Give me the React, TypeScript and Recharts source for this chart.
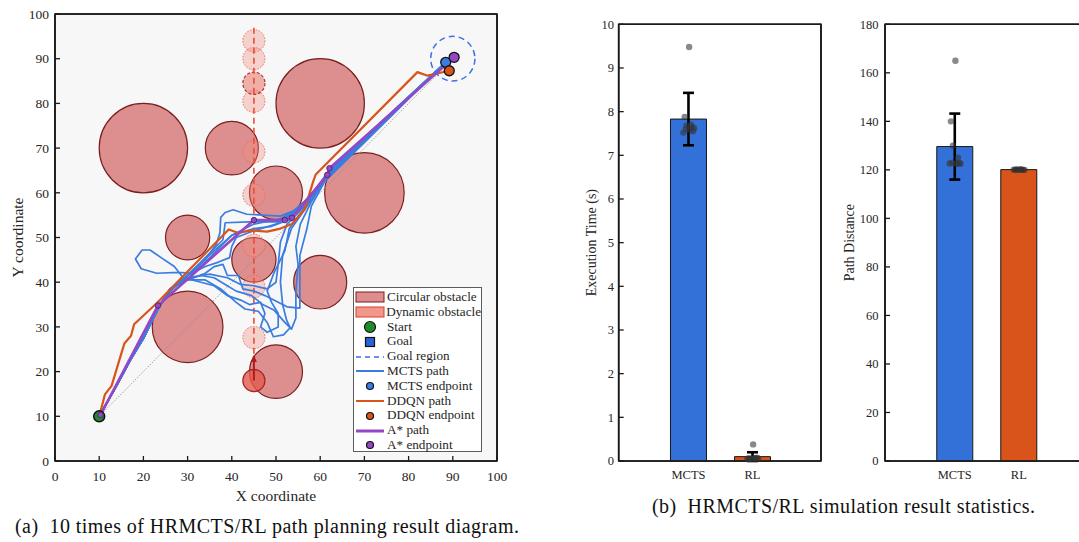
import React from "react";
import {
  Bar,
  Cell,
  ComposedChart,
  ErrorBar,
  ReferenceArea,
  Scatter,
  XAxis,
  YAxis,
} from "recharts";

const SERIF = '"Liberation Serif", "Times New Roman", serif';
const INK = "#262626";
const AXIS = "#1a1a1a";

// ---- path planning map -------------------------------------------------
const MAP_W = 510;
const MAP_H = 510;
const MAP_MARGIN = { top: 14, right: 13, bottom: 9, left: 0 };
const MAP_YAXIS_W = 55;
const MAP_XAXIS_H = 40;
const PLOT_W = MAP_W - MAP_MARGIN.left - MAP_MARGIN.right - MAP_YAXIS_W;
const PLOT_H = MAP_H - MAP_MARGIN.top - MAP_MARGIN.bottom - MAP_XAXIS_H;
const SX = PLOT_W / 100;
const SY = PLOT_H / 100;

const MAP_TICKS = [0, 10, 20, 30, 40, 50, 60, 70, 80, 90, 100];

const OBSTACLES = [
  { x: 20, y: 70, r: 10 },
  { x: 40, y: 70, r: 6 },
  { x: 60, y: 80, r: 10 },
  { x: 70, y: 60, r: 9 },
  { x: 50, y: 60, r: 6 },
  { x: 30, y: 50, r: 5 },
  { x: 45, y: 45, r: 5 },
  { x: 60, y: 40, r: 6 },
  { x: 30, y: 30, r: 8 },
  { x: 50, y: 20, r: 6 },
];

// moving obstacle: past positions, one highlighted sample, and current position
const DYN_TRAIL = [
  { x: 45, y: 94, r: 2.5 },
  { x: 45, y: 90, r: 2.5 },
  { x: 45, y: 80.5, r: 2.5 },
  { x: 45, y: 69.2, r: 2.5 },
  { x: 45, y: 59.5, r: 2.5 },
  { x: 45, y: 48.2, r: 2.5 },
  { x: 45, y: 39, r: 2.5 },
  { x: 45, y: 27.6, r: 2.5 },
];
const DYN_SAMPLE = [{ x: 45, y: 84.5, r: 2.5 }];
const DYN_NOW = [{ x: 45, y: 18, r: 2.5 }];
const DYN_TRACK = [
  { x: 45, y: 24 },
  { x: 45, y: 97 },
];
const DYN_ARROW = [
  { x: 45, y: 18 },
  { x: 45, y: 23.5 },
];

const START = [{ x: 10, y: 10 }];
const GOAL_REGION = [{ x: 90, y: 90, r: 5 }];
const DIAGONAL = [
  { x: 10, y: 10 },
  { x: 90, y: 90 },
];

const MCTS_END = [88.4, 89.2];
const TRUNK = [
  [10, 10],
  [14, 17],
  [17, 22.5],
  [20.2, 27.8],
  [22, 31.5],
  [23.6, 34.6],
];

const MCTS_RUNS = [
  [[26, 38], [30, 41.5], [34, 45], [36.5, 48.5], [37.3, 51], [37.5, 54.5], [38.5, 55.6], [40.3, 56.2], [43.4, 55.2], [47, 55], [51, 54.8], [54, 56], [57, 58.5], [60, 62], [62.5, 65.5], [75, 76.8]],
  [[26, 38], [30, 41.5], [35, 46.5], [38, 49.5], [38.5, 53.3], [44, 53.5], [50, 53.5], [53.5, 55], [58, 59], [62, 65]],
  [[26, 38], [29, 41], [27, 43.5], [24, 45.5], [21.5, 47.2], [19.7, 47.2], [18.2, 45.2], [19.5, 43], [23, 42], [28, 42.2], [31, 42], [34, 44.5], [37, 47.5], [40, 50.5], [45, 52], [49, 52.5], [53, 54], [57, 57.5], [61, 63]],
  [[26, 38.5], [29.5, 40.5], [33, 41.5], [36, 41], [38.5, 39.5], [41, 38], [44.5, 37], [47, 35], [49.5, 33.8], [52, 31], [53.5, 29.5], [54.5, 32], [54.5, 38], [55, 44], [54.5, 48], [55.5, 53], [58, 58], [62, 64.5]],
  [[26, 38.5], [29.5, 40.5], [34, 40.5], [37.5, 38.5], [41, 35.5], [43, 34], [46, 33.5], [48, 31], [49.4, 27.8], [51.7, 28.2], [53.2, 29.8], [52.4, 31.5], [51.5, 35], [51, 40], [51.5, 46], [53.5, 52], [57, 57], [61, 63]],
  [[26, 38.5], [30, 41], [35, 41.8], [39, 41], [42, 39.5], [45, 39.2], [48, 38.5], [50, 40], [50.5, 44], [51, 49], [52.5, 53], [56, 56.5], [60, 61.5], [62.5, 65]],
  [[26, 38.5], [30, 40.8], [33, 40], [36, 39.2], [39, 37], [42, 36], [44, 35], [46.5, 35.5], [47.5, 33], [46.5, 30], [48, 28.8], [50.5, 30], [50.5, 33], [49, 35.5], [48, 38], [49.5, 42], [52, 47], [53, 52], [56, 56], [61, 63]],
  [[26, 38], [30, 41.5], [34, 43.5], [37, 44.5], [39.5, 45.5], [40, 48], [41, 50], [45, 51.5], [50, 53], [54, 55.5], [58, 59.5], [62, 65]],
  [[27, 39], [32, 43.5], [36, 47], [40, 50.5], [45, 53], [51, 54.2], [55, 56.5], [60, 62], [62, 65]],
  [[26, 38.5], [30, 40.5], [34, 42], [36, 43.5], [38, 44], [39, 41.5], [41.5, 41.5], [42.5, 38.5], [45, 38], [47.5, 37], [52.5, 34.5], [55.4, 34.2], [55.4, 40], [55.4, 46], [57, 52], [58, 57], [61, 62.5]],
];

const DDQN_PATH = [
  [10.2, 10.7], [11.3, 14.9], [12.8, 16.8], [15.7, 26.3], [17.2, 28], [17.9, 30.6], [23, 35.3],
  [39.3, 51.8], [41.5, 51], [44.5, 51.6], [48, 51.3], [51, 52], [53.6, 53], [56.5, 56.3],
  [58.4, 62.5], [59, 64.1], [82, 87], [84.3, 86.2], [89.2, 87.3],
];
const DDQN_END = [89.2, 87.3];

const ASTAR_PATH = [
  [10.3, 10.3], [23.3, 34.8], [45, 53.9], [52, 53.9], [53.6, 54.4], [61.6, 64], [62.1, 65.5], [90.3, 90.3],
];
const ASTAR_WAYPOINTS = [
  [10.3, 10.3], [23.3, 34.8], [45, 53.9], [52, 53.9], [53.6, 54.4], [61.6, 64], [62.1, 65.5],
];
const ASTAR_END = [90.3, 90.3];

const OBST_FILL = "#dc8d8d";
const OBST_EDGE = "#7b1f1f";
const MCTS_BLUE = "#3a7ddf";
const DDQN_ORANGE = "#d9541a";
const ASTAR_PURPLE = "#9547c4";
const GOAL_BLUE = "#3c6fe8";
const START_GREEN = "#1e8c2a";

const toPts = (list: number[][]) => list.map(([x, y]) => ({ x, y }));

const hidden = () => <g />;

const disc =
  (fill: string, stroke: string, strokeWidth: number, dash?: string, fillOpacity = 1) =>
  (props: any) =>
    (
      <ellipse
        cx={props.cx}
        cy={props.cy}
        rx={props.payload.r * SX}
        ry={props.payload.r * SY}
        fill={fill}
        fillOpacity={fillOpacity}
        stroke={stroke}
        strokeWidth={strokeWidth}
        strokeDasharray={dash}
      />
    );

const dot = (fill: string, r: number, stroke = "#111", strokeWidth = 1.2) => (props: any) =>
  <circle cx={props.cx} cy={props.cy} r={r} fill={fill} stroke={stroke} strokeWidth={strokeWidth} />;

const arrowHead = (props: any) => {
  if (props.payload.y < 20) return <g />;
  const { cx, cy } = props;
  return <path d={`M${cx - 3},${cy + 6} L${cx},${cy - 1} L${cx + 3},${cy + 6} Z`} fill="#b01c1c" />;
};

const LEGEND_ITEMS = [
  { label: "Circular obstacle", kind: "rect", fill: OBST_FILL, stroke: OBST_EDGE },
  { label: "Dynamic obstacle", kind: "rect", fill: "#f2978b", stroke: "#d2402f" },
  { label: "Start", kind: "circle", fill: START_GREEN, r: 5.5 },
  { label: "Goal", kind: "square", fill: "#2a63d6" },
  { label: "Goal region", kind: "line", stroke: GOAL_BLUE, dash: "5 4", width: 1.5 },
  { label: "MCTS path", kind: "line", stroke: MCTS_BLUE, width: 2 },
  { label: "MCTS endpoint", kind: "circle", fill: MCTS_BLUE, r: 3.5 },
  { label: "DDQN path", kind: "line", stroke: DDQN_ORANGE, width: 2 },
  { label: "DDQN endpoint", kind: "circle", fill: DDQN_ORANGE, r: 3.5 },
  { label: "A* path", kind: "line", stroke: ASTAR_PURPLE, width: 3 },
  { label: "A* endpoint", kind: "circle", fill: ASTAR_PURPLE, r: 3.5 },
];

function LegendSymbol({ item }: { item: any }) {
  return (
    <svg width={30} height={14} style={{ display: "block" }}>
      {item.kind === "rect" && (
        <rect x={1} y={2} width={28} height={10} fill={item.fill} stroke={item.stroke} strokeWidth={1} />
      )}
      {item.kind === "circle" && (
        <circle cx={15} cy={7} r={item.r} fill={item.fill} stroke="#111" strokeWidth={1.2} />
      )}
      {item.kind === "square" && <rect x={10.5} y={2.5} width={9} height={9} fill={item.fill} stroke="#111" strokeWidth={1.2} />}
      {item.kind === "line" && (
        <line x1={1} y1={7} x2={29} y2={7} stroke={item.stroke} strokeWidth={item.width} strokeDasharray={item.dash} />
      )}
    </svg>
  );
}

function MapLegend() {
  return (
    <div
      style={{
        position: "absolute",
        left: 353,
        top: 287,
        width: 129,
        height: 165,
        border: "1.3px solid #5c5c5c",
        background: "#ffffff",
        boxSizing: "border-box",
        paddingTop: 2,
        fontFamily: SERIF,
        fontSize: 13.2,
        color: INK,
      }}
    >
      {LEGEND_ITEMS.map((item) => (
        <div key={item.label} style={{ display: "flex", alignItems: "center", height: 14.8, lineHeight: "14.8px" }}>
          <div style={{ width: 32, paddingLeft: 1 }}>
            <LegendSymbol item={item} />
          </div>
          <span style={{ whiteSpace: "nowrap" }}>{item.label}</span>
        </div>
      ))}
    </div>
  );
}

const rotatedLabel = (text: string, x: number, size: number) => (props: any) => {
  const vb = props.viewBox;
  const cy = vb.y + vb.height / 2;
  return (
    <text
      x={x}
      y={cy}
      transform={`rotate(-90, ${x}, ${cy})`}
      textAnchor="middle"
      dominantBaseline="central"
      fontFamily={SERIF}
      fontSize={size}
      fill={INK}
    >
      {text}
    </text>
  );
};

const bottomLabel = (text: string, y: number, size: number) => (props: any) => {
  const vb = props.viewBox;
  return (
    <text x={vb.x + vb.width / 2} y={y} textAnchor="middle" dominantBaseline="central" fontFamily={SERIF} fontSize={size} fill={INK}>
      {text}
    </text>
  );
};

function PathMap() {
  const axisLine = { stroke: AXIS, strokeWidth: 1.6 };
  const tickLine = { stroke: AXIS, strokeWidth: 1.3 };
  const tick = { fill: INK, fontSize: 13.5, fontFamily: SERIF };
  return (
    <div style={{ position: "absolute", left: 0, top: 0 }}>
      <ComposedChart width={MAP_W} height={MAP_H} margin={MAP_MARGIN}>
        <XAxis
          dataKey="x"
          type="number"
          domain={[0, 100]}
          ticks={MAP_TICKS}
          height={MAP_XAXIS_H}
          axisLine={axisLine}
          tickLine={tickLine}
          tickSize={-5}
          tickMargin={15}
          tick={tick}
          label={{ content: bottomLabel("X coordinate", 495, 15.5) }}
        />
        <YAxis
          dataKey="y"
          type="number"
          domain={[0, 100]}
          ticks={MAP_TICKS}
          width={MAP_YAXIS_W}
          axisLine={axisLine}
          tickLine={tickLine}
          tickSize={-5}
          tickMargin={11}
          tick={tick}
          label={{ content: rotatedLabel("Y coordinate", 17.5, 15.5) }}
        />
        <XAxis xAxisId="top" dataKey="x" orientation="top" mirror type="number" domain={[0, 100]} ticks={MAP_TICKS} axisLine={axisLine} tickLine={tickLine} tickSize={5} tick={false} />
        <YAxis yAxisId="right" dataKey="y" orientation="right" mirror type="number" domain={[0, 100]} ticks={MAP_TICKS} axisLine={axisLine} tickLine={tickLine} tickSize={5} tick={false} />

        <ReferenceArea x1={0} x2={100} y1={0} y2={100} fill="#f7f7f7" fillOpacity={1} stroke={AXIS} strokeWidth={1.6} />

        <Scatter data={OBSTACLES} shape={disc(OBST_FILL, OBST_EDGE, 1.2, undefined, 0.98)} isAnimationActive={false} />
        <Scatter data={DYN_TRAIL} shape={disc("#f08a7e", "#ec6a5c", 1, "1.5 1.5", 0.35)} isAnimationActive={false} />
        <Scatter data={DYN_SAMPLE} shape={disc("#ea7f74", "#b0302a", 1.2, "3 2", 0.6)} isAnimationActive={false} />
        <Scatter data={DYN_TRACK} line={{ stroke: "#ee4a36", strokeWidth: 1.6, strokeDasharray: "6 4" }} shape={hidden} isAnimationActive={false} />
        <Scatter data={DYN_NOW} shape={disc("#e45a4e", "#a52222", 1.2, undefined, 0.8)} isAnimationActive={false} />
        <Scatter data={DYN_ARROW} line={{ stroke: "#b01c1c", strokeWidth: 2 }} shape={arrowHead} isAnimationActive={false} />

        <Scatter data={DIAGONAL} line={{ stroke: "#8c8c8c", strokeWidth: 0.8, strokeDasharray: "1.5 1.5" }} shape={hidden} isAnimationActive={false} />

        {MCTS_RUNS.map((run, i) => (
          <Scatter
            key={`mcts-${i}`}
            data={toPts([...TRUNK, ...run, MCTS_END])}
            line={{ stroke: MCTS_BLUE, strokeWidth: 1.7, strokeLinejoin: "round" }}
            shape={hidden}
            isAnimationActive={false}
          />
        ))}
        <Scatter data={toPts(DDQN_PATH)} line={{ stroke: DDQN_ORANGE, strokeWidth: 2.2, strokeLinejoin: "round" }} shape={hidden} isAnimationActive={false} />
        <Scatter data={toPts(ASTAR_PATH)} line={{ stroke: ASTAR_PURPLE, strokeWidth: 2.6, strokeLinejoin: "round" }} shape={hidden} isAnimationActive={false} />

        <Scatter data={GOAL_REGION} shape={disc("none", GOAL_BLUE, 1.5, "6 4")} isAnimationActive={false} />
        <Scatter data={START} shape={dot(START_GREEN, 5.5, "#111", 1.5)} isAnimationActive={false} />
        <Scatter data={toPts(ASTAR_WAYPOINTS)} shape={dot(ASTAR_PURPLE, 2.8, "#4a2060", 0.8)} isAnimationActive={false} />
        <Scatter data={toPts([MCTS_END])} shape={dot(MCTS_BLUE, 5, "#111", 1.3)} isAnimationActive={false} />
        <Scatter data={toPts([DDQN_END])} shape={dot(DDQN_ORANGE, 5, "#111", 1.3)} isAnimationActive={false} />
        <Scatter data={toPts([ASTAR_END])} shape={dot(ASTAR_PURPLE, 5, "#111", 1.3)} isAnimationActive={false} />
      </ComposedChart>
      <MapLegend />
    </div>
  );
}

// ---- statistics panels ---------------------------------------------------
const CATEGORIES = ["MCTS", "RL"];
const CAT_X = [1, 2];
const BAR_COLORS = ["#3371d9", "#d9541a"];
const X_DOMAIN = [-0.09, 3.07];

const EXEC_MEAN = [7.83, 0.1];
const EXEC_ERR = [0.6, 0.1];
const EXEC_MCTS_RUNS = [9.48, 7.88, 7.68, 7.65, 7.62, 7.6, 7.58, 7.55, 7.52, 7.7];
const EXEC_RL_RUNS = [0.38, 0.06, 0.05, 0.07, 0.06, 0.05, 0.06, 0.07, 0.05, 0.06];
const EXEC_TICKS = [0, 1, 2, 3, 4, 5, 6, 7, 8, 9, 10];

const DIST_MEAN = [129.6, 120.1];
const DIST_ERR = [13.6, 0.2];
const DIST_MCTS_RUNS = [165, 140, 130, 125, 122.5, 123, 122.5, 122.8, 122.6, 122.6];
const DIST_RL_RUNS = [120.1, 120, 120.2, 120.1, 120, 120.1, 120.2, 120, 120.1, 120.1];
const DIST_TICKS = [0, 20, 40, 60, 80, 100, 120, 140, 160, 180];

const RUN_JITTER = [0.01, -0.06, -0.03, 0.05, 0.09, -0.04, 0.02, 0.07, -0.08, 0.04];

type PanelProps = {
  left: number;
  marginRight: number;
  yAxisWidth: number;
  tickMargin: number;
  domain: number[];
  ticks: number[];
  mean: number[];
  err: number[];
  runs: number[][];
  label: string;
  labelX: number;
};

function StatPanel(p: PanelProps) {
  const bars = CAT_X.map((x, i) => ({ x, mean: p.mean[i], err: p.err[i] }));
  const runDots = p.runs.flatMap((values, i) => values.map((y, j) => ({ x: CAT_X[i] + RUN_JITTER[j], y })));
  const axisLine = { stroke: AXIS, strokeWidth: 1.6 };
  const tickLine = { stroke: AXIS, strokeWidth: 1.3 };
  const tick = { fill: INK, fontSize: 12.5, fontFamily: SERIF };
  return (
    <div style={{ position: "absolute", left: p.left, top: 0 }}>
      <ComposedChart width={270} height={500} data={bars} margin={{ top: 24.3, right: p.marginRight, bottom: 9, left: 0 }}>
        <XAxis
          dataKey="x"
          type="number"
          domain={X_DOMAIN}
          ticks={CAT_X}
          tickFormatter={(v) => CATEGORIES[CAT_X.indexOf(Number(v))] ?? ""}
          height={30}
          axisLine={axisLine}
          tickLine={false}
          tickSize={0}
          tickMargin={9}
          tick={tick}
        />
        <YAxis
          type="number"
          domain={p.domain}
          ticks={p.ticks}
          width={p.yAxisWidth}
          axisLine={axisLine}
          tickLine={tickLine}
          tickSize={-5}
          tickMargin={p.tickMargin}
          tick={tick}
          label={{ content: rotatedLabel(p.label, p.labelX, 14) }}
        />
        {/* top axis carries the category tick marks and the per-run dots */}
        <XAxis xAxisId="top" dataKey="x" orientation="top" mirror type="number" domain={X_DOMAIN} ticks={CAT_X} axisLine={axisLine} tickLine={tickLine} tickSize={5} tick={false} />
        <YAxis yAxisId="right" orientation="right" mirror type="number" domain={p.domain} ticks={p.ticks} axisLine={axisLine} tickLine={tickLine} tickSize={5} tick={false} />
        <ReferenceArea x1={X_DOMAIN[0]} x2={X_DOMAIN[1]} y1={p.domain[0]} y2={p.domain[1]} fill="none" stroke={AXIS} strokeWidth={1.6} />
        <Bar dataKey="mean" barSize={36} stroke="#161616" strokeWidth={1} isAnimationActive={false}>
          {bars.map((_, i) => (
            <Cell key={i} fill={BAR_COLORS[i]} />
          ))}
          <ErrorBar dataKey="err" direction="y" width={5.5} strokeWidth={2.6} stroke="#000" />
        </Bar>
        <Scatter
          xAxisId="top"
          data={runDots}
          dataKey="y"
          shape={(props: any) => <circle cx={props.cx} cy={props.cy} r={3.2} fill="#333" fillOpacity={0.58} />}
          isAnimationActive={false}
        />
      </ComposedChart>
    </div>
  );
}

const captionStyle: React.CSSProperties = {
  position: "absolute",
  fontSize: 20,
  lineHeight: "26px",
  letterSpacing: 0.45,
  color: "#111",
  whiteSpace: "pre",
};

export default function App() {
  return (
    <div
      style={{
        position: "fixed",
        left: 0,
        top: 0,
        width: 1079,
        height: 542,
        overflow: "hidden",
        background: "#ffffff",
        fontFamily: SERIF,
      }}
    >
      <PathMap />
      <StatPanel
        left={560}
        marginRight={9}
        yAxisWidth={58.7}
        tickMargin={9.7}
        domain={[0, 10]}
        ticks={EXEC_TICKS}
        mean={EXEC_MEAN}
        err={EXEC_ERR}
        runs={[EXEC_MCTS_RUNS, EXEC_RL_RUNS]}
        label="Execution Time (s)"
        labelX={31.5}
      />
      <StatPanel
        left={830}
        marginRight={12.7}
        yAxisWidth={55}
        tickMargin={11.5}
        domain={[0, 180]}
        ticks={DIST_TICKS}
        mean={DIST_MEAN}
        err={DIST_ERR}
        runs={[DIST_MCTS_RUNS, DIST_RL_RUNS]}
        label="Path Distance"
        labelX={19.5}
      />
      <div style={{ ...captionStyle, left: 15, top: 513 }}>(a)  10 times of HRMCTS/RL path planning result diagram.</div>
      <div style={{ ...captionStyle, left: 652, top: 493 }}>(b)  HRMCTS/RL simulation result statistics.</div>
    </div>
  );
}
